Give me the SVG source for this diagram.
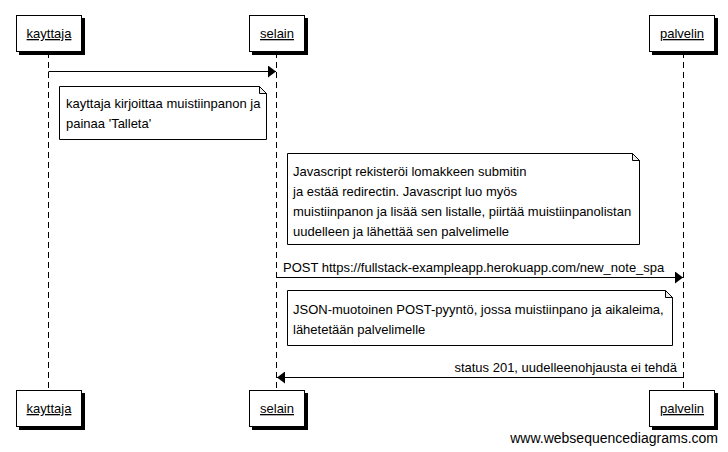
<svg xmlns="http://www.w3.org/2000/svg" width="728" height="452" viewBox="0 0 728 452">
<style>
text{font-family:"Liberation Sans",Arial,sans-serif;font-size:13px;fill:#000}
.box{fill:#fff;stroke:#000;stroke-width:1}
.shadow{fill:#000}
.life{stroke:#000;stroke-width:1;stroke-dasharray:6,4;fill:none}
.msg{stroke:#000;stroke-width:1;fill:none}
.note{fill:#fff;stroke:#000;stroke-width:1}
.fold{fill:#eee;stroke:#000;stroke-width:1}
.u{text-decoration:underline}
</style>
<defs>
<marker id="ah" viewBox="0 0 8 12" refX="8" refY="6" markerWidth="8" markerHeight="12" markerUnits="userSpaceOnUse" orient="auto">
<path d="M0,0 L8,6 L0,12 Z" fill="#000"/>
</marker>
</defs>
<rect width="728" height="452" fill="#fff"/>
<g id="lifelines">
<line class="life" x1="48.5" y1="52" x2="48.5" y2="391"/>
<line class="life" x1="276.5" y1="52" x2="276.5" y2="391"/>
<line class="life" x1="683.5" y1="52" x2="683.5" y2="391"/>
</g>
<g id="kayttaja">
<rect class="shadow" x="19" y="18" width="66" height="37"/>
<rect class="box" x="16.5" y="15.5" width="65" height="36"/>
<text class="u" x="49" y="38" text-anchor="middle">kayttaja</text>
</g>
<g id="selain">
<rect class="shadow" x="252" y="18" width="56" height="37"/>
<rect class="box" x="249.5" y="15.5" width="55" height="36"/>
<text class="u" x="277" y="38" text-anchor="middle">selain</text>
</g>
<g id="palvelin">
<rect class="shadow" x="652" y="18" width="66" height="37"/>
<rect class="box" x="649.5" y="15.5" width="65" height="36"/>
<text class="u" x="682" y="38" text-anchor="middle">palvelin</text>
</g>
<g id="kayttaja-bottom">
<rect class="shadow" x="19" y="393" width="66" height="37"/>
<rect class="box" x="16.5" y="390.5" width="65" height="36"/>
<text class="u" x="49" y="413" text-anchor="middle">kayttaja</text>
</g>
<g id="selain-bottom">
<rect class="shadow" x="252" y="393" width="56" height="37"/>
<rect class="box" x="249.5" y="390.5" width="55" height="36"/>
<text class="u" x="277" y="413" text-anchor="middle">selain</text>
</g>
<g id="palvelin-bottom">
<rect class="shadow" x="652" y="393" width="66" height="37"/>
<rect class="box" x="649.5" y="390.5" width="65" height="36"/>
<text class="u" x="682" y="413" text-anchor="middle">palvelin</text>
</g>
<g id="connectors">
<line class="msg" x1="48.5" y1="71.5" x2="276" y2="71.5" marker-end="url(#ah)"/>
<line class="msg" x1="276.5" y1="277.5" x2="683" y2="277.5" marker-end="url(#ah)"/>
<text x="283" y="272">POST https://fullstack-exampleapp.herokuapp.com/new_note_spa</text>
<line class="msg" x1="683.5" y1="377.5" x2="277" y2="377.5" marker-end="url(#ah)"/>
<text x="677" y="372" text-anchor="end">status 201, uudelleenohjausta ei tehdä</text>
</g>
<g id="note1">
<path class="note" d="M59.5,86.5 H259.5 L266.5,93.5 V139.5 H59.5 Z"/>
<path class="fold" d="M259.5,86.5 V93.5 H266.5 Z"/>
<text x="66" y="108">kayttaja kirjoittaa muistiinpanon ja</text>
<text x="66" y="128">painaa 'Talleta'</text>
</g>
<g id="note2">
<path class="note" d="M287.5,153.5 H632.5 L639.5,160.5 V244.5 H287.5 Z"/>
<path class="fold" d="M632.5,153.5 V160.5 H639.5 Z"/>
<text x="293" y="176">Javascript rekisteröi lomakkeen submitin</text>
<text x="293" y="196">ja estää redirectin. Javascript luo myös</text>
<text x="293" y="216">muistiinpanon ja lisää sen listalle, piirtää muistiinpanolistan</text>
<text x="293" y="236">uudelleen ja lähettää sen palvelimelle</text>
</g>
<g id="note3">
<path class="note" d="M287.5,290.5 H665.5 L672.5,297.5 V345.5 H287.5 Z"/>
<path class="fold" d="M665.5,290.5 V297.5 H672.5 Z"/>
<text x="293" y="314">JSON-muotoinen POST-pyyntö, jossa muistiinpano ja aikaleima,</text>
<text x="293" y="334">lähetetään palvelimelle</text>
</g>
<text x="718" y="443" text-anchor="end" style="font-size:14px">www.websequencediagrams.com</text>
</svg>
